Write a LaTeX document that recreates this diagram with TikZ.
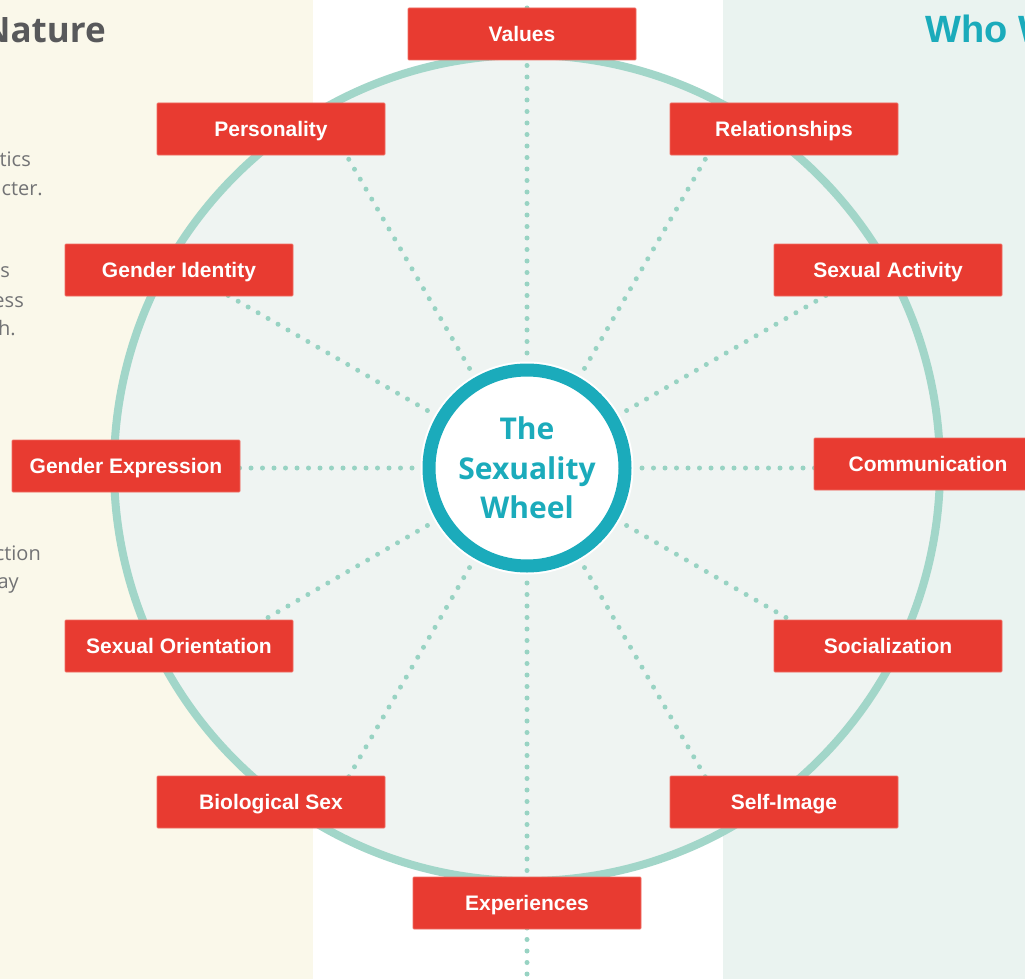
\documentclass[tikz,border=0pt]{standalone}
\usepackage{fontspec}
\usepackage{xcolor}
\usepackage{tikz}
\usetikzlibrary{positioning,calc}
\newfontfamily\tagfont{Liberation Sans}
\newfontfamily\hubfont{Open Sans}
\definecolor{tagred}{HTML}{E83B31}
\definecolor{tagedge}{HTML}{EF6D63}
\definecolor{rimgreen}{HTML}{A2D6C9}
\definecolor{wheelfill}{HTML}{EFF4F2}
\definecolor{spokegreen}{HTML}{98D3C3}
\definecolor{hubteal}{HTML}{1BABBB}
\definecolor{creamleft}{HTML}{FAF8EA}
\definecolor{mintright}{HTML}{EAF3F0}
\definecolor{headgray}{HTML}{58595B}
\definecolor{bodygray}{HTML}{727375}
\pgfdeclarelayer{back}
\pgfdeclarelayer{spokes}
\pgfsetlayers{back,spokes,main}

\begin{document}
\begin{tikzpicture}[x=1pt, y=-1pt,
    tag/.style={fill=tagred, draw=tagedge, line width=0.8pt, rounded corners=1pt,
        minimum width=228pt, minimum height=52pt, inner sep=0pt,
        text=white, font=\tagfont\bfseries\fontsize{21}{24}\selectfont,
        text height=15.1pt, text depth=0pt},
    hub/.style={circle, fill=white, draw=hubteal, line width=13pt, minimum size=196pt,
        inner sep=0pt, align=center, text=hubteal,
        font=\hubfont\bfseries\fontsize{30}{39.5}\selectfont,
        preaction={draw=white, line width=17pt}},
    spoke/.style={draw=spokegreen, line width=5pt, line cap=round, dash pattern=on 0pt off 11.5pt},
    bodytxt/.style={anchor=base east, inner sep=0pt, text=bodygray,
        font=\hubfont\fontsize{20}{24}\selectfont}]
    \useasboundingbox (0,0) rectangle (1025,979);

    \begin{pgfonlayer}{back}
    \fill[creamleft] (0,0) rectangle (313,979);
    \fill[white] (313,0) rectangle (723,979);
    \fill[mintright] (723,0) rectangle (1025,979);
    \draw[rimgreen, fill=wheelfill, line width=8pt] (527,468) circle[radius=413];
    \end{pgfonlayer}

    % side panels (cut off)
    \node[anchor=base east, inner sep=0pt, text=headgray, font=\hubfont\bfseries\fontsize{35}{40}\selectfont] (nature) at (106,43) {Nature};
    \node[anchor=base west, inner sep=0pt, text=hubteal, font=\tagfont\bfseries\fontsize{38}{44}\selectfont] (who) at (925,43) {Who W};
    \node[bodytxt] (l1) at (31,166) {tics};
    \node[bodytxt] (l2) at (43,195) {cter.};
    \node[bodytxt] (l3) at (10,277) {s};
    \node[bodytxt] (l4) at (24,307) {ess};
    \node[bodytxt] (l5) at (16,335) {h.};
    \node[bodytxt] (l6) at (41,560) {ction};
    \node[bodytxt] (l7) at (19,588) {ay};

    \node[hub] (hub) at (527,468) {The\\Sexuality\\Wheel};

    \node[tag] (values) at (522,34) {Values};
    \node[tag] (personality) at (271,129) {Personality};
    \node[tag] (relationships) at (784,129) {Relationships};
    \node[tag] (genderid) at (179,270) {Gender Identity};
    \node[tag] (sexactivity) at (888,270) {Sexual Activity};
    \node[tag] (genderexp) at (126,466) {Gender Expression};
    \node[tag] (communication) at (928,464) {Communication};
    \node[tag] (orientation) at (179,646) {Sexual Orientation};
    \node[tag] (socialization) at (888,646) {Socialization};
    \node[tag] (biosex) at (271,802) {Biological Sex};
    \node[tag] (selfimage) at (784,802) {Self-Image};
    \node[tag] (experiences) at (527,903) {Experiences};

    \begin{pgfonlayer}{spokes}
    \foreach \a/\r in {0/380, 30/400, 60/390, 90/475, 120/390, 150/400,
        180/380, 210/355, 240/385, 270/520, 300/385, 330/355}
        \draw[spoke] (hub.center) -- ++(-\a:\r);
    \end{pgfonlayer}
\end{tikzpicture}
\end{document}
